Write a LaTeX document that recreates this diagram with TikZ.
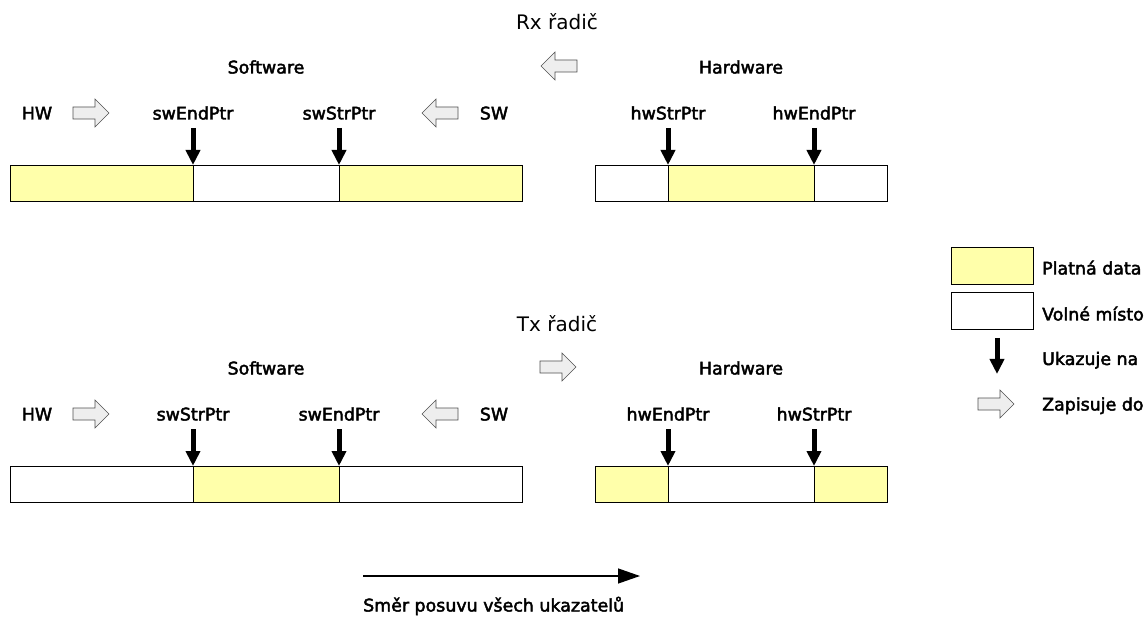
\documentclass[tikz,border=0pt]{standalone}
\usepackage{fontspec}
\setmainfont{DejaVu Sans}
\newfontfamily\lblfont[FakeBold=2.5]{DejaVu Sans}
\usetikzlibrary{arrows.meta}
\definecolor{validdata}{RGB}{255,255,170}
\definecolor{writefill}{RGB}{238,238,238}
\definecolor{writeedge}{RGB}{80,80,80}
\begin{document}
\begin{tikzpicture}[x=1pt,y=-1pt,
  lbl/.style={font=\lblfont\fontsize{17.4}{20}\selectfont, inner sep=0pt, anchor=base},
  lgd/.style={lbl, anchor=base west},
  ttl/.style={font=\fontsize{20}{24}\selectfont, inner sep=0pt, anchor=base},
  full/.style={draw=black, line width=0.9pt, fill=validdata},
  empty/.style={draw=black, line width=0.9pt, fill=white},
  ptr/.style={line width=5pt, -{Triangle[length=15pt,width=14pt]}},
  writearrow/.style={fill=writefill, draw=writeedge, line width=0.6pt, line join=miter},
  hollowR/.pic={\draw[writearrow]
     (-18,-6) -- (4,-6) -- (4,-14) -- (18,0) -- (4,14) -- (4,6) -- (-18,6) -- cycle;},
  hollowL/.pic={\draw[writearrow]
     (18,-6) -- (-4,-6) -- (-4,-14) -- (-18,0) -- (-4,14) -- (-4,6) -- (18,6) -- cycle;},
]
\useasboundingbox (0,0) rectangle (1148,617);

% ---------------- Rx controller ----------------
\node[ttl] (rxTitle) at (557,29.5) {Rx řadič};
\pic at (559,66) {hollowL};
\node[lbl] (rxSw) at (266,73.5) {Software};
\node[lbl] (rxHw) at (741,73.5) {Hardware};

\node[lbl] (rxHWin) at (37,119.5) {HW};
\pic at (91,113) {hollowR};
\node[lbl] (rxSwEnd) at (193,119.5) {swEndPtr};
\node[lbl] (rxSwStr) at (339,119.5) {swStrPtr};
\pic at (440,113) {hollowL};
\node[lbl] (rxSWin) at (494,119.5) {SW};
\node[lbl] (rxHwStr) at (668,119.5) {hwStrPtr};
\node[lbl] (rxHwEnd) at (814,119.5) {hwEndPtr};

% software ring buffer
\draw[full]  (10,165)  rectangle (193,201);
\draw[empty] (193,165) rectangle (339,201);
\draw[full]  (339,165) rectangle (522,201);
\coordinate (rxA) at (193,165);
\coordinate (rxB) at (339,165);
% hardware ring buffer
\draw[empty] (595,165) rectangle (668,201);
\draw[full]  (668,165) rectangle (814,201);
\draw[empty] (814,165) rectangle (887,201);
\coordinate (rxC) at (668,165);
\coordinate (rxD) at (814,165);

\draw[ptr] (rxA |- 0,128) -- (rxA);
\draw[ptr] (rxB |- 0,128) -- (rxB);
\draw[ptr] (rxC |- 0,128) -- (rxC);
\draw[ptr] (rxD |- 0,128) -- (rxD);

% ---------------- Tx controller ----------------
\node[ttl] (txTitle) at (557,331.5) {Tx řadič};
\pic at (558,367) {hollowR};
\node[lbl] (txSw) at (266,374.5) {Software};
\node[lbl] (txHw) at (741,374.5) {Hardware};

\node[lbl] (txHWin) at (37,420.5) {HW};
\pic at (91,414) {hollowR};
\node[lbl] (txSwStr) at (193,420.5) {swStrPtr};
\node[lbl] (txSwEnd) at (339,420.5) {swEndPtr};
\pic at (440,414) {hollowL};
\node[lbl] (txSWin) at (494,420.5) {SW};
\node[lbl] (txHwEnd) at (668,420.5) {hwEndPtr};
\node[lbl] (txHwStr) at (814,420.5) {hwStrPtr};

\draw[empty] (10,466)  rectangle (193,502);
\draw[full]  (193,466) rectangle (339,502);
\draw[empty] (339,466) rectangle (522,502);
\coordinate (txA) at (193,466);
\coordinate (txB) at (339,466);
\draw[full]  (595,466) rectangle (668,502);
\draw[empty] (668,466) rectangle (814,502);
\draw[full]  (814,466) rectangle (887,502);
\coordinate (txC) at (668,466);
\coordinate (txD) at (814,466);

\draw[ptr] (txA |- 0,429) -- (txA);
\draw[ptr] (txB |- 0,429) -- (txB);
\draw[ptr] (txC |- 0,429) -- (txC);
\draw[ptr] (txD |- 0,429) -- (txD);

% ---------------- legend ----------------
\draw[full]  (951,247) rectangle (1033,284);
\node[lgd] (lgValid) at (1042,274.5) {Platná data};
\draw[empty] (951,292) rectangle (1033,329);
\node[lgd] (lgFree) at (1042,320.5) {Volné místo};
\coordinate (lgPtrS) at (997,338);
\coordinate (lgPtrE) at (997,374);
\draw[ptr] (lgPtrS) -- (lgPtrE);
\node[lgd] (lgPtr) at (1042,365) {Ukazuje na};
\pic at (996,404) {hollowR};
\node[lgd] (lgWrite) at (1042,410.5) {Zapisuje do};

% ---------------- direction of pointer movement ----------------
\coordinate (dirS) at (363,576);
\coordinate (dirE) at (640,576);
\draw[line width=1.3pt, -{Triangle[length=22pt,width=15pt]}] (dirS) -- (dirE);
\node[lgd] (dirLbl) at (363,611.5) {Směr posuvu všech ukazatelů};
\end{tikzpicture}
\end{document}
